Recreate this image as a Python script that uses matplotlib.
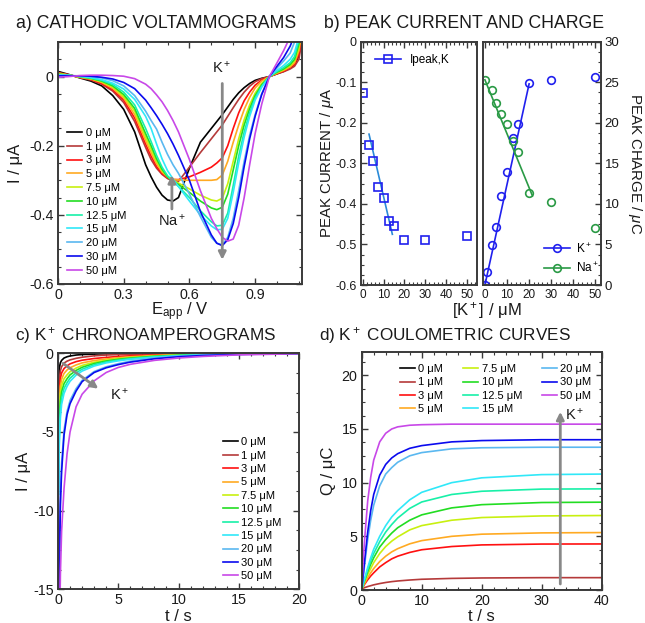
import numpy as np
import matplotlib
matplotlib.use("Agg")
import matplotlib.pyplot as plt
from matplotlib.ticker import MultipleLocator

plt.rcParams['font.family'] = ['Liberation Sans', 'DejaVu Sans']
plt.rcParams['mathtext.fontset'] = 'custom'
plt.rcParams['mathtext.rm'] = 'Liberation Sans'
plt.rcParams['mathtext.it'] = 'Liberation Sans:italic'
plt.rcParams['mathtext.bf'] = 'Liberation Sans:bold'
plt.rcParams['axes.unicode_minus'] = False

# ---------------- data ----------------
conc_labels = ['0 μM', '1 μM', '3 μM', '5 μM', '7.5 μM', '10 μM', '12.5 μM',
               '15 μM', '20 μM', '30 μM', '50 μM']
colors = ['#000000', '#b53a3a', '#ff1010', '#ffaa22', '#c8f010', '#22dd22',
          '#18f0a8', '#30e8f8', '#5ab8f0', '#0a0aee', '#c848e8']

# a) cathodic voltammograms
E_app = [0, 0.05, 0.1, 0.15, 0.2, 0.25, 0.3, 0.35, 0.4, 0.425, 0.45, 0.475, 0.5,
         0.525, 0.55, 0.6, 0.65, 0.7, 0.725, 0.75, 0.775, 0.8, 0.825, 0.85, 0.875,
         0.9, 0.93, 0.965, 1.0, 1.03, 1.06, 1.08, 1.1, 1.11]
I_cv_0 = [0.015, 0.006, -0.004, -0.013, -0.027, -0.055, -0.095, -0.16, -0.255, -0.29, -0.32, -0.343, -0.357,
          -0.36, -0.35, -0.265, -0.19, -0.15, -0.13, -0.11, -0.088, -0.066, -0.047, -0.032, -0.02,
          -0.011, -0.005, 0, 0.008, 0.015, 0.025, 0.035, 0.06, 0.11]
I_cv_1 = [0.012, 0.005, -0.003, -0.01, -0.022, -0.042, -0.075, -0.13, -0.205, -0.24, -0.265, -0.283, -0.295,
          -0.302, -0.303, -0.262, -0.22, -0.18, -0.16, -0.14, -0.115, -0.09, -0.066, -0.045, -0.028,
          -0.015, -0.006, 0, 0.008, 0.014, 0.022, 0.03, 0.05, 0.09]
I_cv_3 = [0.01, 0.005, -0.002, -0.008, -0.02, -0.038, -0.068, -0.12, -0.195, -0.23, -0.26, -0.28, -0.292,
          -0.298, -0.298, -0.29, -0.277, -0.262, -0.25, -0.235, -0.2, -0.15, -0.105, -0.07, -0.045,
          -0.025, -0.01, 0, 0.009, 0.016, 0.026, 0.036, 0.065, 0.11]
I_cv_5 = [0.01, 0.004, -0.002, -0.007, -0.017, -0.034, -0.062, -0.11, -0.185, -0.22, -0.252, -0.276, -0.29,
          -0.297, -0.299, -0.3, -0.3, -0.3, -0.298, -0.285, -0.245, -0.19, -0.14, -0.095, -0.06,
          -0.033, -0.013, 0, 0.01, 0.018, 0.028, 0.04, 0.075, 0.12]
I_cv_7p5 = [0.008, 0.004, -0.001, -0.006, -0.015, -0.03, -0.057, -0.1, -0.175, -0.21, -0.245, -0.272, -0.29,
            -0.3, -0.308, -0.325, -0.343, -0.357, -0.36, -0.352, -0.31, -0.245, -0.18, -0.125, -0.082,
            -0.048, -0.02, 0, 0.012, 0.02, 0.032, 0.046, 0.085, 0.13]
I_cv_10 = [0.007, 0.004, 0, -0.005, -0.013, -0.027, -0.052, -0.092, -0.165, -0.2, -0.238, -0.268, -0.29,
           -0.302, -0.312, -0.335, -0.36, -0.38, -0.385, -0.378, -0.34, -0.27, -0.2, -0.14, -0.093,
           -0.055, -0.024, 0, 0.013, 0.022, 0.035, 0.05, 0.095, 0.14]
I_cv_12p5 = [0.006, 0.003, 0, -0.004, -0.011, -0.023, -0.045, -0.082, -0.15, -0.188, -0.228, -0.262, -0.287,
             -0.303, -0.318, -0.35, -0.388, -0.42, -0.432, -0.43, -0.395, -0.315, -0.23, -0.16, -0.105,
             -0.062, -0.028, 0, 0.015, 0.026, 0.04, 0.058, 0.105, 0.15]
I_cv_15 = [0.005, 0.003, 0.001, -0.003, -0.009, -0.019, -0.036, -0.066, -0.115, -0.15, -0.195, -0.238, -0.272,
           -0.296, -0.318, -0.36, -0.4, -0.432, -0.443, -0.442, -0.41, -0.335, -0.25, -0.175, -0.115,
           -0.068, -0.031, 0, 0.018, 0.032, 0.05, 0.07, 0.115, 0.16]
I_cv_20 = [0.004, 0.003, 0.002, 0, -0.004, -0.012, -0.027, -0.055, -0.1, -0.127, -0.152, -0.19, -0.225,
           -0.255, -0.28, -0.34, -0.405, -0.465, -0.482, -0.487, -0.465, -0.41, -0.33, -0.245, -0.17,
           -0.11, -0.05, 0, 0.025, 0.045, 0.068, 0.1, 0.14, 0.17]
I_cv_30 = [0.002, 0.002, 0.002, 0.001, -0.002, -0.007, -0.017, -0.035, -0.068, -0.09, -0.113, -0.138, -0.165,
           -0.195, -0.228, -0.3, -0.39, -0.458, -0.482, -0.489, -0.472, -0.425, -0.35, -0.26, -0.18,
           -0.115, -0.052, 0, 0.03, 0.055, 0.088, 0.12, 0.15, 0.17]
I_cv_50 = [-0.002, 0.0, 0.003, 0.004, 0.004, 0.003, 0.001, -0.006, -0.022, -0.035, -0.053, -0.073, -0.098,
           -0.127, -0.16, -0.24, -0.33, -0.41, -0.44, -0.465, -0.476, -0.47, -0.43, -0.35, -0.255,
           -0.165, -0.08, 0, 0.04, 0.075, 0.115, 0.14, 0.16, 0.17]
I_cv = [I_cv_0, I_cv_1, I_cv_3, I_cv_5, I_cv_7p5, I_cv_10, I_cv_12p5, I_cv_15, I_cv_20, I_cv_30, I_cv_50]

# b) peak current and charge
K_ipeak = [0, 3, 5, 7.5, 10, 12.5, 15, 20, 30, 50]
I_peak = [-0.127, -0.255, -0.295, -0.358, -0.385, -0.443, -0.455, -0.488, -0.488, -0.478]
ipeak_fit_x = [3, 14.2]
ipeak_fit_y = [-0.228, -0.475]
K_charge = [0, 1, 3, 5, 7.5, 10, 12.5, 15, 20, 30, 50]
Q_K = [0, 1.55, 4.95, 7.1, 11.0, 13.9, 18.1, 19.9, 24.9, 25.3, 25.7]
Na_conc = [0, 3, 5, 7.5, 10, 12.5, 15, 20, 30, 50]
Q_Na = [25.3, 24.0, 22.5, 21.1, 19.8, 17.8, 16.4, 11.3, 10.2, 7.0]
qk_fit_x = [0, 20]
qk_fit_y = [0, 24.8]
qna_fit_x = [0, 21.5]
qna_fit_y = [25.3, 11.0]

# c) chronoamperograms
t_ca = [0, 0.05, 0.1, 0.2, 0.3, 0.5, 0.75, 1, 1.5, 2, 3, 4, 5, 6, 8, 10, 12, 15, 20]
I_ca_0 = [0, -1.8, -1.0, -0.6, -0.45, -0.3, -0.22, -0.17, -0.11, -0.08, -0.05, -0.03, -0.02, -0.015, -0.01, -0.005, 0, 0, 0]
I_ca_1 = [0, -3.0, -1.8, -1.1, -0.85, -0.62, -0.5, -0.42, -0.32, -0.25, -0.16, -0.11, -0.08, -0.06, -0.035, -0.02, -0.01, -0.005, 0]
I_ca_3 = [0, -4.2, -2.6, -1.6, -1.25, -0.97, -0.8, -0.67, -0.53, -0.44, -0.33, -0.26, -0.2, -0.16, -0.1, -0.06, -0.04, -0.02, -0.005]
I_ca_5 = [0, -5.2, -3.4, -2.1, -1.65, -1.28, -1.06, -0.92, -0.74, -0.61, -0.46, -0.36, -0.28, -0.22, -0.14, -0.09, -0.06, -0.03, -0.01]
I_ca_7p5 = [0, -6.0, -4.0, -2.6, -2.05, -1.62, -1.37, -1.17, -0.94, -0.77, -0.57, -0.44, -0.34, -0.27, -0.17, -0.11, -0.07, -0.04, -0.015]
I_ca_10 = [0, -7.0, -4.6, -3.1, -2.45, -1.93, -1.62, -1.37, -1.09, -0.89, -0.65, -0.49, -0.38, -0.3, -0.19, -0.12, -0.08, -0.04, -0.015]
I_ca_12p5 = [0, -8.0, -5.3, -3.6, -2.85, -2.23, -1.87, -1.58, -1.24, -1.01, -0.73, -0.55, -0.43, -0.34, -0.22, -0.14, -0.09, -0.05, -0.02]
I_ca_15 = [0, -9.0, -6.0, -4.1, -3.25, -2.55, -2.1, -1.78, -1.39, -1.13, -0.81, -0.61, -0.48, -0.38, -0.25, -0.16, -0.11, -0.06, -0.02]
I_ca_20 = [0, -18, -13.5, -9.0, -7.0, -4.9, -3.7, -3.0, -2.25, -1.72, -1.16, -0.86, -0.66, -0.5, -0.3, -0.18, -0.11, -0.05, -0.01]
I_ca_30 = [0, -19, -14.5, -9.6, -7.5, -5.2, -3.9, -3.2, -2.4, -1.8, -1.22, -0.92, -0.72, -0.56, -0.35, -0.22, -0.14, -0.07, -0.02]
I_ca_50 = [0, -25, -19, -14, -11.3, -8.6, -6.4, -5.0, -3.4, -2.6, -1.75, -1.22, -0.9, -0.7, -0.45, -0.3, -0.2, -0.1, -0.03]
I_ca = [I_ca_0, I_ca_1, I_ca_3, I_ca_5, I_ca_7p5, I_ca_10, I_ca_12p5, I_ca_15, I_ca_20, I_ca_30, I_ca_50]

# d) coulometric curves
t_q = [0, 0.25, 0.5, 1, 1.5, 2, 3, 4, 5, 6, 8, 10, 15, 20, 30, 40]
Q_0 = [0, 0, 0, 0, 0, 0, 0, 0, 0, 0, 0, 0, 0, 0, 0, 0]
Q_1 = [0.1, 0.17, 0.22, 0.32, 0.4, 0.48, 0.6, 0.7, 0.78, 0.84, 0.93, 1.0, 1.08, 1.12, 1.15, 1.15]
Q_3 = [0, 0.3, 0.55, 0.95, 1.3, 1.6, 2.15, 2.55, 2.9, 3.15, 3.5, 3.75, 4.05, 4.2, 4.28, 4.29]
Q_5 = [0, 0.35, 0.65, 1.15, 1.6, 2.0, 2.65, 3.15, 3.55, 3.85, 4.3, 4.6, 5.0, 5.2, 5.32, 5.35]
Q_7p5 = [0, 0.45, 0.8, 1.45, 2.0, 2.55, 3.4, 4.05, 4.55, 4.95, 5.6, 6.0, 6.5, 6.75, 6.9, 6.94]
Q_10 = [0, 0.5, 0.9, 1.7, 2.4, 3.0, 4.0, 4.7, 5.3, 5.8, 6.5, 7.0, 7.65, 7.95, 8.15, 8.18]
Q_12p5 = [0, 0.55, 1.0, 1.9, 2.7, 3.4, 4.5, 5.4, 6.1, 6.7, 7.6, 8.2, 8.9, 9.2, 9.4, 9.42]
Q_15 = [0, 0.6, 1.1, 2.1, 3.0, 3.8, 5.0, 6.0, 6.8, 7.4, 8.4, 9.1, 10.0, 10.45, 10.75, 10.8]
Q_20 = [0, 1.2, 2.4, 4.7, 6.5, 7.9, 9.7, 10.8, 11.4, 11.9, 12.5, 12.8, 13.15, 13.25, 13.3, 13.3]
Q_30 = [0, 1.4, 2.8, 5.4, 7.4, 8.9, 10.7, 11.7, 12.3, 12.7, 13.2, 13.45, 13.8, 13.92, 14.0, 14.0]
Q_50 = [0, 2.8, 4.8, 8.3, 10.5, 12.1, 13.8, 14.6, 15.0, 15.2, 15.35, 15.4, 15.45, 15.45, 15.45, 15.45]
Q_curves = [Q_0, Q_1, Q_3, Q_5, Q_7p5, Q_10, Q_12p5, Q_15, Q_20, Q_30, Q_50]

# ---------------- figure ----------------
W, H = 645, 623
fig = plt.figure(figsize=(W / 100, H / 100), dpi=100)

def rect(x0, y0, x1, y1):
    return [x0 / W, 1 - y1 / H, (x1 - x0) / W, (y1 - y0) / H]

SP = '#3a3a3a'
TXT = '#1a1a1a'
ARROW = '#888888'
LAB = 12
TICK = 10.3
LEG = 8

def style(ax, left=True, right=True, top=True, bottom=True, size=TICK):
    ax.tick_params(which='both', direction='in', left=left, right=right, top=top,
                   bottom=bottom, colors=SP, labelcolor=TXT, labelsize=size)
    ax.tick_params(which='major', length=4.5, width=1.0, pad=3)
    ax.tick_params(which='minor', length=2.5, width=0.8)
    for s in ax.spines.values():
        s.set_color(SP)
        s.set_linewidth(1.4)

def labels(ax, xl, yl, xy, yx, size=LAB, rot=90):
    if xl:
        ax.set_xlabel(xl, fontsize=size, color=TXT)
        ax.xaxis.label.set_va('center')
        ax.xaxis.set_label_coords(0.5, xy)
    if yl:
        ax.set_ylabel(yl, fontsize=size, color=TXT, rotation=rot)
        ax.yaxis.label.set_va('center')
        ax.yaxis.label.set_ha('center')
        ax.yaxis.set_label_coords(yx, 0.5)

def arrow(ax, tail, head):
    ax.annotate('', xy=head, xytext=tail,
                arrowprops=dict(arrowstyle='-|>', color=ARROW, lw=2.0,
                                mutation_scale=11, shrinkA=0, shrinkB=0))

# ---- a) ----
axa = fig.add_axes(rect(58, 42, 302, 284))
for y, c, lab in zip(I_cv, colors, conc_labels):
    axa.plot(E_app, y, color=c, lw=1.2, label=lab)
axa.set_xlim(0, 1.114)
axa.set_ylim(-0.6, 0.1)
axa.xaxis.set_minor_locator(MultipleLocator(0.1))
axa.yaxis.set_minor_locator(MultipleLocator(0.05))
axa.set_xticks([0, 0.3, 0.6, 0.9])
axa.set_xticklabels(['0', '0.3', '0.6', '0.9'])
axa.set_yticks([-0.6, -0.4, -0.2, 0])
axa.set_yticklabels(['-0.6', '-0.4', '-0.2', '0'])
style(axa)
labels(axa, r'E$_\mathregular{app}$ / V', 'I / μA', -0.116, -0.176)
arrow(axa, (0.52, -0.383), (0.52, -0.285))
axa.text(0.52, -0.418, 'Na$^+$', ha='center', va='center', fontsize=10.5, color=TXT)
arrow(axa, (0.75, -0.02), (0.75, -0.53))
axa.text(0.745, 0.026, 'K$^+$', ha='center', va='center', fontsize=10.5, color=TXT)
axa.legend(loc='upper left', bbox_to_anchor=(0.038, 0.645), frameon=False,
           fontsize=LEG, handlelength=1.3, handletextpad=0.35, labelspacing=0.34,
           borderpad=0, borderaxespad=0)

# ---- b) ----
axb1 = fig.add_axes(rect(360.7, 41.7, 477.3, 285))
axb2 = fig.add_axes(rect(482.7, 41.7, 600.5, 285))
axb1.plot(ipeak_fit_x, ipeak_fit_y, color='#2a8ad8', lw=1.2)
axb1.plot(K_ipeak, I_peak, ls='none', marker='s', ms=6, mfc='none', mec='#2020ee', mew=1.2)
axb1.plot([], [], color='#2020ee', marker='s', ms=6, mfc='none', mec='#2020ee', mew=1.2,
          lw=1.2, label='Ipeak,K')
axb1.set_xlim(-1, 55)
axb1.set_ylim(-0.6, 0)
axb1.xaxis.set_major_locator(MultipleLocator(10))
axb1.xaxis.set_minor_locator(MultipleLocator(2))
axb1.yaxis.set_minor_locator(MultipleLocator(0.025))
axb1.set_yticks([-0.6, -0.5, -0.4, -0.3, -0.2, -0.1, 0])
axb1.set_yticklabels(['-0.6', '-0.5', '-0.4', '-0.3', '-0.2', '-0.1', '0'])
style(axb1, right=False, size=9)
axb1.tick_params(axis='x', labelsize=8.5)
labels(axb1, None, 'PEAK CURRENT / $\\mathit{μ}$A', None, -0.29, size=10.8)
axb1.legend(loc='upper left', bbox_to_anchor=(0.12, 0.95), frameon=False,
            fontsize=8.5, handlelength=2.2, handletextpad=0.8, borderpad=0, borderaxespad=0)

axb2.plot(qk_fit_x, qk_fit_y, color='#2020ee', lw=1.2)
axb2.plot(qna_fit_x, qna_fit_y, color='#2a9a45', lw=1.2)
axb2.plot(K_charge, Q_K, ls='none', marker='o', ms=5.5, mfc='none', mec='#2020ee', mew=1.2)
axb2.plot(Na_conc, Q_Na, ls='none', marker='o', ms=5.5, mfc='none', mec='#2a9a45', mew=1.2)
axb2.plot([], [], color='#2020ee', marker='o', ms=5.5, mfc='none', mew=1.2, lw=1.2, label='K$^+$')
axb2.plot([], [], color='#2a9a45', marker='o', ms=5.5, mfc='none', mew=1.2, lw=1.2, label='Na$^+$')
axb2.set_xlim(-1, 52.3)
axb2.set_ylim(0, 30)
axb2.xaxis.set_major_locator(MultipleLocator(10))
axb2.xaxis.set_minor_locator(MultipleLocator(2))
axb2.yaxis.set_major_locator(MultipleLocator(5))
axb2.yaxis.set_minor_locator(MultipleLocator(1.25))
style(axb2, left=False, size=9.5)
axb2.tick_params(axis='x', labelsize=8.5)
axb2.yaxis.tick_right()
axb2.tick_params(which='both', left=False, right=True)
axb2.yaxis.set_label_position('right')
labels(axb2, None, 'PEAK CHARGE / $\\mathit{μ}$C', None, 1.293, size=10.8, rot=270)
axb2.legend(loc='lower right', bbox_to_anchor=(0.99, 0.04), frameon=False,
            fontsize=8.5, handlelength=2.2, handletextpad=0.5, labelspacing=0.5,
            borderpad=0, borderaxespad=0)
fig.text(486.5 / W, 1 - 311 / H, '[K$^+$] / μM', ha='center', va='center', fontsize=LAB, color=TXT)

# ---- c) ----
axc = fig.add_axes(rect(58, 353.3, 299, 589.3))
for y, c, lab in zip(I_ca, colors, conc_labels):
    axc.plot(t_ca, y, color=c, lw=1.2, label=lab)
axc.set_xlim(0, 20)
axc.set_ylim(-15, 0)
axc.xaxis.set_major_locator(MultipleLocator(5))
axc.xaxis.set_minor_locator(MultipleLocator(1))
axc.yaxis.set_major_locator(MultipleLocator(5))
axc.yaxis.set_minor_locator(MultipleLocator(1.25))
style(axc)
labels(axc, 't / s', 'I / μA', -0.117, -0.145)
arrow(axc, (0.42, -0.64), (3.35, -2.25))
axc.text(5.1, -2.65, 'K$^+$', ha='center', va='center', fontsize=10.5, color=TXT)
axc.legend(loc='upper left', bbox_to_anchor=(0.685, 0.644), frameon=False,
           fontsize=LEG, handlelength=1.3, handletextpad=0.35, labelspacing=0.305,
           borderpad=0, borderaxespad=0)

# ---- d) ----
axd = fig.add_axes(rect(361.7, 351.7, 601.7, 590))
for y, c, lab in zip(Q_curves, colors, conc_labels):
    axd.plot(t_q, y, color=c, lw=1.2, label=lab)
axd.set_xlim(0, 40)
axd.set_ylim(0, 22.2)
axd.xaxis.set_major_locator(MultipleLocator(10))
axd.xaxis.set_minor_locator(MultipleLocator(2))
axd.yaxis.set_major_locator(MultipleLocator(5))
axd.yaxis.set_minor_locator(MultipleLocator(1.25))
style(axd)
labels(axd, 't / s', 'Q / μC', -0.113, -0.14)
arrow(axd, (33.1, 0.56), (33.1, 16.6))
axd.text(35.4, 16.3, 'K$^+$', ha='center', va='center', fontsize=10.5, color=TXT)
axd.legend(loc='upper left', bbox_to_anchor=(0.16, 0.947), frameon=False, ncol=3,
           fontsize=LEG, handlelength=1.3, handletextpad=0.35, labelspacing=0.28,
           columnspacing=1.8, borderpad=0, borderaxespad=0)

# ---- titles ----
fig.text(16 / W, 1 - 23 / H, 'a) CATHODIC VOLTAMMOGRAMS', ha='left', va='center', fontsize=12.7, color=TXT)
fig.text(324 / W, 1 - 23 / H, 'b) PEAK CURRENT AND CHARGE', ha='left', va='center', fontsize=12.7, color=TXT)
fig.text(15 / W, 1 - 336 / H, 'c) K$^+$ CHRONOAMPEROGRAMS', ha='left', va='center', fontsize=12.3, color=TXT)
fig.text(319 / W, 1 - 336 / H, 'd) K$^+$ COULOMETRIC CURVES', ha='left', va='center', fontsize=12.3, color=TXT)

fig.savefig('out.png', dpi=100)
